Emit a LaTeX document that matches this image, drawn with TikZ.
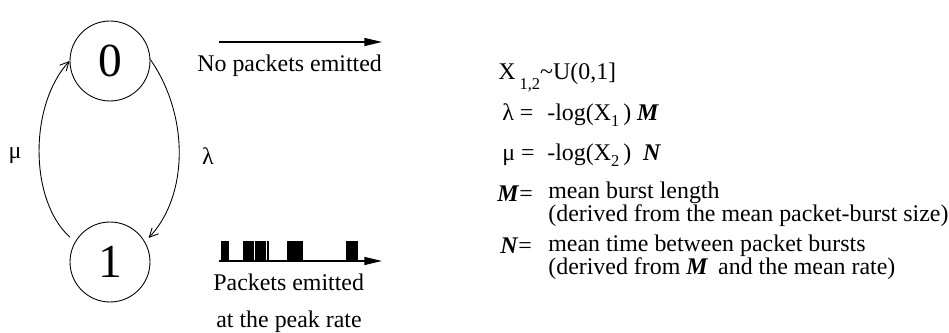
\documentclass[tikz,border=0pt]{standalone}
\usepackage{fontspec}
\setmainfont{Liberation Serif}
\usetikzlibrary{arrows.meta, positioning}

\newcommand{\bfit}[1]{\textbf{\textit{#1}}}
\newcommand{\lowsub}[2]{\raisebox{#1}{\fontsize{9.4}{9.4}\selectfont #2}}

\begin{document}
\begin{tikzpicture}[
    x=0.02cm, y=-0.02cm,
    state/.style={
        draw,
        circle,
        minimum size=1.6cm,
        inner sep=0pt,
        line width=0.5pt,
        font=\fontsize{27}{30}\selectfont
    },
    txt/.style={
        anchor=base west,
        inner sep=0pt,
        align=left,
        font=\fontsize{13.6}{11.6}\selectfont
    },
    trans/.style={
        -{Straight Barb[length=5pt, width=5pt]},
        line width=0.5pt
    },
    emit/.style={
        -{Triangle[length=10pt, width=4.5pt]},
        line width=0.7pt
    }
]
\useasboundingbox (0,0) rectangle (949,333);

% Nodes
\node (zero) [state] at (110,61) {0};
\node (one) [state] at (110,262) {1};
\node (mu) [font=\fontsize{13.6}{15}\selectfont] at (15,156) {μ};
\node (lambda) [font=\fontsize{13.6}{15}\selectfont] at (208,156) {λ};

\coordinate (idleS) at (219,42);
\coordinate (idleE) at (382,42);
\coordinate (busyS) at (219,261);
\coordinate (busyE) at (382,261);

\node (idle) [txt] at (197,72) {No packets emitted};
\node (busy) [txt] at (213,291) {Packets emitted};
\node (peak) [txt] at (216,328) {at the peak rate};

\node (xdef) [txt] at (498,80) {X\,\lowsub{-0.9ex}{1,2}\textasciitilde U(0,1]};
\node (lhs1) [txt] at (502,121) {λ =};
\node (rhs1) [txt] at (547,121) {-log(X\lowsub{-0.5ex}{1}\,) \bfit{M}};
\node (lhs2) [txt] at (502,161) {μ =};
\node (rhs2) [txt] at (547,161) {-log(X\lowsub{-0.5ex}{2}\,) \ \bfit{N}};
\node (lhs3) [txt] at (497,202) {\bfit{M}=};
\node (rhs3) [txt] at (548,222) {mean burst length\\(derived from the mean packet-burst size)};
\node (lhs4) [txt] at (500,254) {\bfit{N}=};
\node (rhs4) [txt] at (548,275) {mean time between packet bursts\\(derived from \bfit{M}\, and the mean rate)};

% Paths
\draw [trans, shorten <=4pt] (one.150) .. controls (29,200) and (29,105) .. (zero.180);
\draw [trans, shorten >=3pt] (zero.2) .. controls (189,115) and (189,195) .. (one.30);
\draw [emit] (idleS) -- (idleE);
\draw [emit] (busyS) -- (busyE);
\foreach \a/\b in {221/229, 243/254, 255/266, 267/269, 287/303, 346/358}
    \fill (\a,241) rectangle (\b,261);

\end{tikzpicture}
\end{document}
